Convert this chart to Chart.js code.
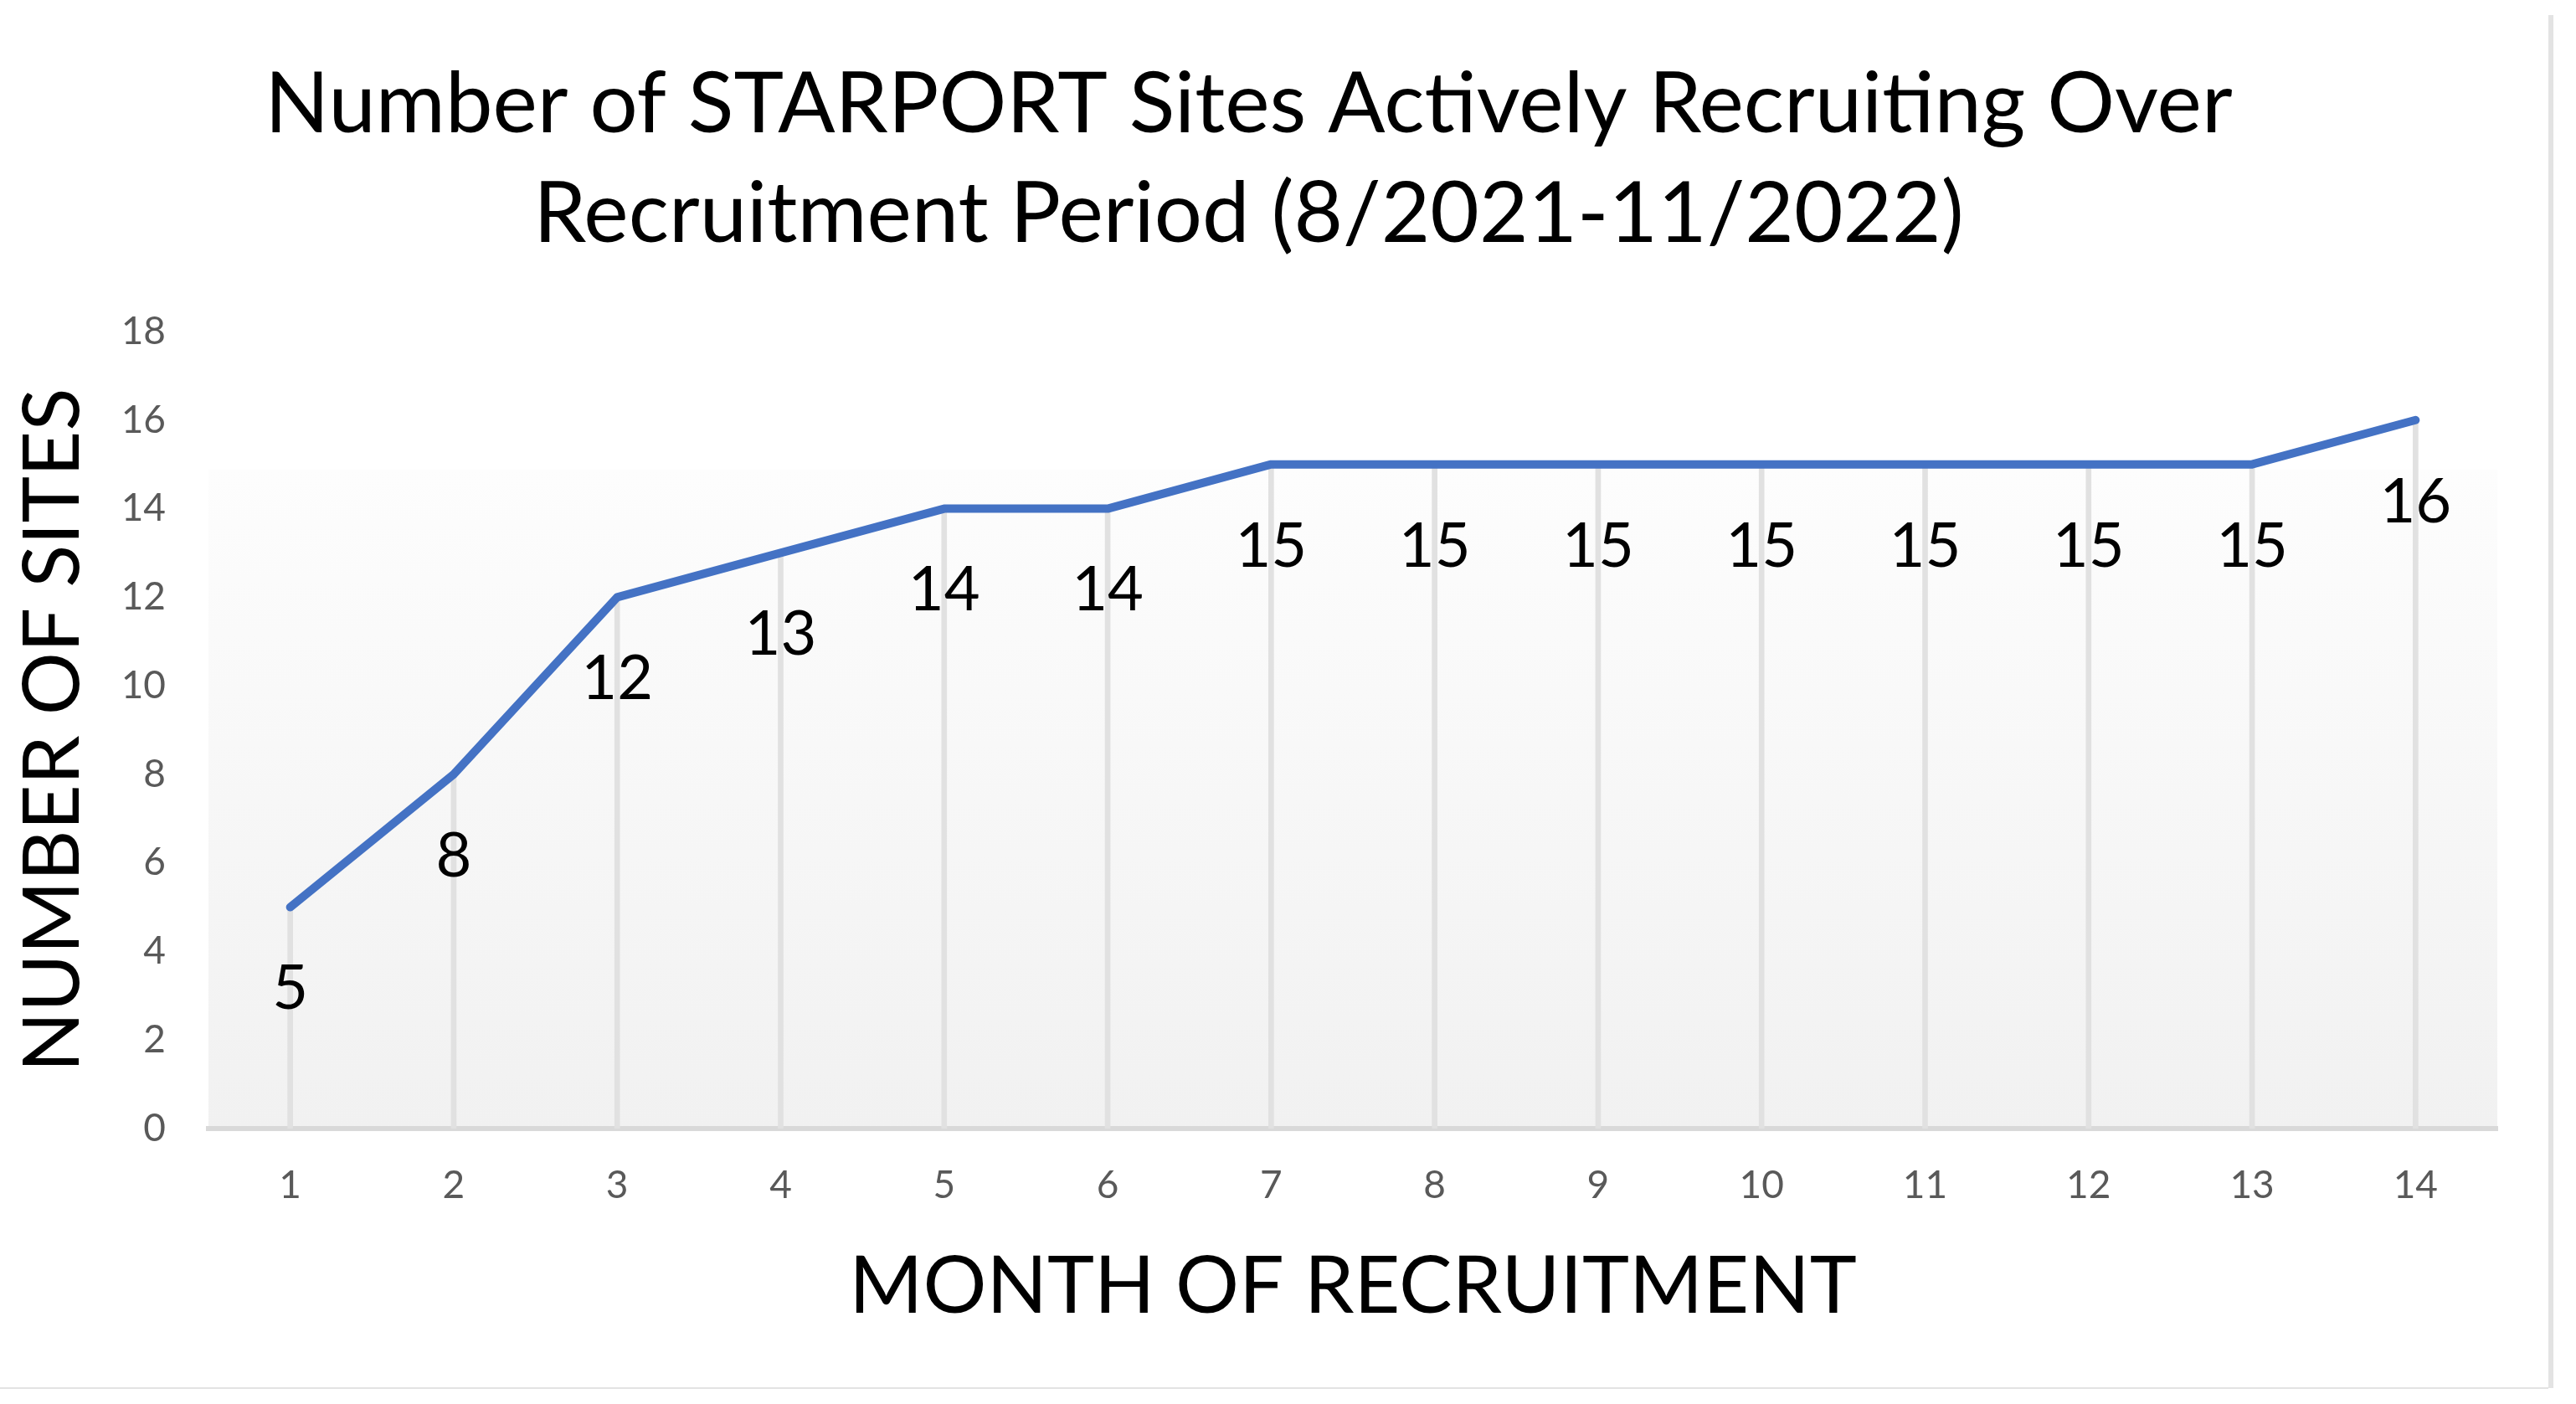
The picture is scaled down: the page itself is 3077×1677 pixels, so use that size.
<!DOCTYPE html>
<html>
<head>
<meta charset="utf-8">
<script src="https://cdn.jsdelivr.net/npm/chart.js@4.4.1/dist/chart.umd.min.js"></script>
<style>
  html, body { margin: 0; padding: 0; background: #ffffff; }
  #charts { width: 3077px; height: 1677px; }
</style>
</head>
<body>
<div id="charts"><canvas id="myChart" width="3077" height="1677"></canvas></div>
<script>
// Chart data
var months = ['1', '2', '3', '4', '5', '6', '7', '8', '9', '10', '11', '12', '13', '14'];
var sites = [5, 8, 12, 13, 14, 14, 15, 15, 15, 15, 15, 15, 15, 16];
var yMin = 0;
var yMax = 18;
var yStep = 2;

var titleLines = ['Number of STARPORT Sites Actively Recruiting Over', 'Recruitment Period (8/2021-11/2022)'];
var xTitle = 'MONTH OF RECRUITMENT';
var yTitle = 'NUMBER OF SITES';

var fontFamily = 'Lato, "Open Sans", sans-serif';

// Plot area gradient and the thin frame around the picture
var backdrop = {
    id: 'backdrop',
    beforeDraw: function (chart) {
        let ctx = chart.ctx;
        let area = chart.chartArea;
        let top = area.top + (area.bottom - area.top) * 0.173;
        let grad = ctx.createLinearGradient(0, top, 0, area.bottom);
        grad.addColorStop(0, '#fdfdfd');
        grad.addColorStop(1, '#f1f1f1');
        ctx.save();
        ctx.fillStyle = grad;
        ctx.fillRect(area.left, top, area.right - area.left, area.bottom - top);
        // frame
        ctx.fillStyle = '#e3e3e3';
        ctx.fillRect(3044, 18, 6, 1640);
        ctx.fillRect(0, 1657, 3044, 2);
        ctx.restore();
    }
};

// Value labels under each point of the line
var valueLabels = {
    id: 'valueLabels',
    afterDatasetsDraw: function (chart) {
        let ctx = chart.ctx;
        let meta = chart.getDatasetMeta(0);
        ctx.save();
        ctx.font = '74px ' + fontFamily;
        ctx.fillStyle = '#000000';
        ctx.textAlign = 'center';
        ctx.textBaseline = 'middle';
        meta.data.forEach(function (pt, i) {
            ctx.fillText(String(sites[i]), pt.x, pt.y + 98);
        });
        ctx.restore();
    }
};

let ctx = document.getElementById('myChart').getContext('2d');
let chart = new Chart(ctx, {
    type: 'line',
    data: {
        labels: months,
        datasets: [
            {
                type: 'line',
                data: sites,
                borderColor: '#4472C4',
                borderWidth: 10,
                borderJoinStyle: 'round',
                borderCapStyle: 'round',
                pointRadius: 0,
                tension: 0,
                fill: false,
                order: 1
            },
            {
                // drop lines from each point down to the axis
                type: 'bar',
                data: sites,
                backgroundColor: '#e1e1e1',
                borderWidth: 0,
                barThickness: 6,
                order: 2
            }
        ]
    },
    options: {
        responsive: false,
        animation: false,
        devicePixelRatio: 1,
        layout: { padding: { left: 0, right: 94, top: 0, bottom: 0 } },
        plugins: {
            legend: { display: false },
            tooltip: { enabled: false },
            title: {
                display: true,
                text: titleLines,
                color: '#000000',
                font: { family: fontFamily, size: 101, weight: 'normal', lineHeight: 1.297 },
                padding: { top: 60, bottom: 74 }
            }
        },
        scales: {
            x: {
                type: 'category',
                offset: true,
                grid: { display: false, drawTicks: false },
                border: { display: true, color: '#d9d9d9', width: 6 },
                ticks: {
                    color: '#595959',
                    padding: 41,
                    maxRotation: 0,
                    autoSkip: false,
                    font: { family: fontFamily, size: 46 }
                },
                title: {
                    display: true,
                    text: xTitle,
                    color: '#000000',
                    font: { family: fontFamily, size: 95 },
                    padding: { top: 0, bottom: 83 }
                },
                afterFit: function (scale) { scale.height = 329; }
            },
            y: {
                min: yMin,
                max: yMax,
                grid: { display: false, drawTicks: false },
                border: { display: false },
                ticks: {
                    stepSize: yStep,
                    color: '#595959',
                    padding: 51,
                    font: { family: fontFamily, size: 46 }
                },
                title: {
                    display: true,
                    text: yTitle,
                    color: '#000000',
                    font: { family: fontFamily, size: 94 },
                    padding: { top: 7, bottom: 0 }
                },
                afterFit: function (scale) { scale.width = 249; }
            }
        }
    },
    plugins: [backdrop, valueLabels]
});
</script>
</body>
</html>
